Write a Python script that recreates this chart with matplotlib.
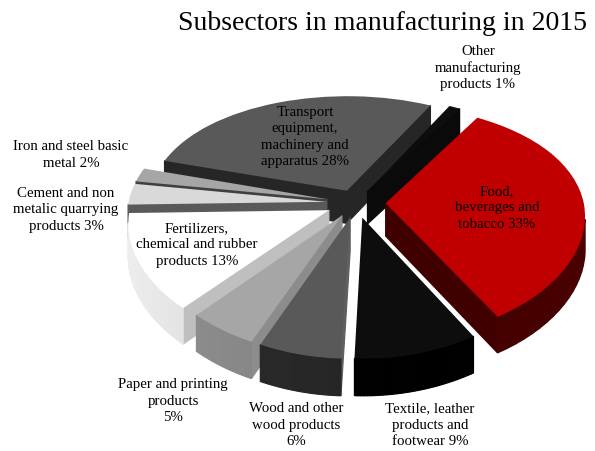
import numpy as np
import matplotlib
matplotlib.use("Agg")
import matplotlib.pyplot as plt
from matplotlib.patches import Polygon
from matplotlib.transforms import Transform

# subsector shares, clockwise from the food slice
names = ["Food,\nbeverages and\ntobacco", "Textile, leather\nproducts and\nfootwear",
         "Wood and other\nwood products\n", "Paper and printing\nproducts\n",
         "Fertilizers,\nchemical and rubber\nproducts", "Cement and non\nmetalic quarrying\nproducts",
         "Iron and steel basic\nmetal", "Transport\nequipment,\nmachinery and\napparatus",
         "Other\nmanufacturing\nproducts"]
shares = [33, 9, 6, 5, 13, 3, 2, 28, 1]
pulled = [0.15, 0.13, 0.13, 0.13, 0.15, 0.15, 0.15, 0.12, 0.12]
top_colors = ["#c00000", "#0d0d0d", "#595959", "#a6a6a6", "#ffffff",
              "#d9d9d9", "#a6a6a6", "#595959", "#0d0d0d"]
side_colors = ["#400000", "#000000", "#262626", "#7f7f7f", "#cfcfcf",
               "#595959", "#404040", "#404040", "#0a0a0a"]
cut_colors = ["#400000", "#0d0d0d", "#5f5f5f", "#8c8c8c", "#bfbfbf",
              "#595959", "#404040", "#262626", "#0a0a0a"]
label_xy = [(497, 208), (430, 425), (296, 425), (173, 401), (197, 245),
            (66, 210), (71, 155), (305, 137), (478, 68)]

CX, CY = 356, 203
R, K = 198, 0.572
PX, PY = 0.10, 0.16
DEPTH = 33


class Tilt(Transform):
    input_dims = output_dims = 2

    def transform_non_affine(self, values):
        x, y = np.asarray(values).T
        sx = 1 / (1 + PX * y)
        sy = 1 / (1 + PY * y)
        return np.column_stack((CX + R * x * sx, CY - K * R * y * sy))


tilt = Tilt()


def floor_points(xy):
    # same ground points, pushed down by the thickness of the pie
    xy = np.atleast_2d(xy)
    pts = tilt.transform_non_affine(xy)
    pts[:, 1] += DEPTH / (1 + PX * xy[:, 1])
    return pts


def add_face(ax, edge, color, z):
    top = tilt.transform_non_affine(edge)
    low = floor_points(edge)
    poly = np.vstack((top, low[::-1]))
    # faces are wound so only the ones turned to the viewer have positive area
    x, y = poly.T
    area = np.sum(x * np.roll(y, -1) - np.roll(x, -1) * y)
    if area > 0:
        ax.add_patch(Polygon(poly, closed=True, fc=color, ec=color, lw=0.9, zorder=z))


def shade(color, f):
    rgb = np.array(matplotlib.colors.to_rgb(color))
    return tuple(np.clip(rgb * f, 0, 1))


fig = plt.figure(figsize=(5.95, 4.51), dpi=100)
ax = fig.add_axes([0, 0, 1, 1])

wedges, _ = ax.pie(shares, startangle=59, counterclock=False, radius=1,
                   explode=pulled, wedgeprops={"linewidth": 0})
ax.set_aspect("auto")
ax.set_xlim(0, 595)
ax.set_ylim(451, 0)
ax.axis("off")

mid = [np.radians((w.theta1 + w.theta2) / 2) for w in wedges]
order = np.argsort([-np.sin(m) for m in mid])

for rank, i in enumerate(order):
    w = wedges[i]
    c = np.array(w.center)
    z = 2 + 3 * rank
    a1, a2 = np.radians(w.theta1), np.radians(w.theta2)
    # radial cut faces
    p1 = c + w.r * np.array([np.cos(a1), np.sin(a1)])
    p2 = c + w.r * np.array([np.cos(a2), np.sin(a2)])
    add_face(ax, np.array([c, p1]), cut_colors[i], z)
    add_face(ax, np.array([p2, c]), cut_colors[i], z)
    # outer rim, a little lighter towards the left and right ends
    th = np.linspace(a1, a2, 40)
    for t0, t1 in zip(th[:-1], th[1:]):
        edge = c + w.r * np.array([[np.cos(t0), np.sin(t0)], [np.cos(t1), np.sin(t1)]])
        add_face(ax, edge, shade(side_colors[i], 1 + 0.15 * abs(np.cos(t0))), z + 1)
    w.set_transform(tilt + ax.transData)
    w.set_facecolor(top_colors[i])
    w.set_clip_on(False)
    w.set_zorder(z + 2)

serif = "Liberation Serif"
for name, share, (x, y) in zip(names, shares, label_xy):
    text = name.rstrip("\n")
    if name.endswith("\n"):
        text = text + "\n%d%%" % share
    else:
        text = text + " %d%%" % share
    ax.text(x, y, text, ha="center", va="center", fontsize=10.7, family=serif,
            color="black", linespacing=1.34, zorder=60)

ax.text(587, 24, "Subsectors in manufacturing in 2015", ha="right", va="center",
        fontsize=20, family=serif, color="black", zorder=60)

fig.savefig("out.png", dpi=100)
